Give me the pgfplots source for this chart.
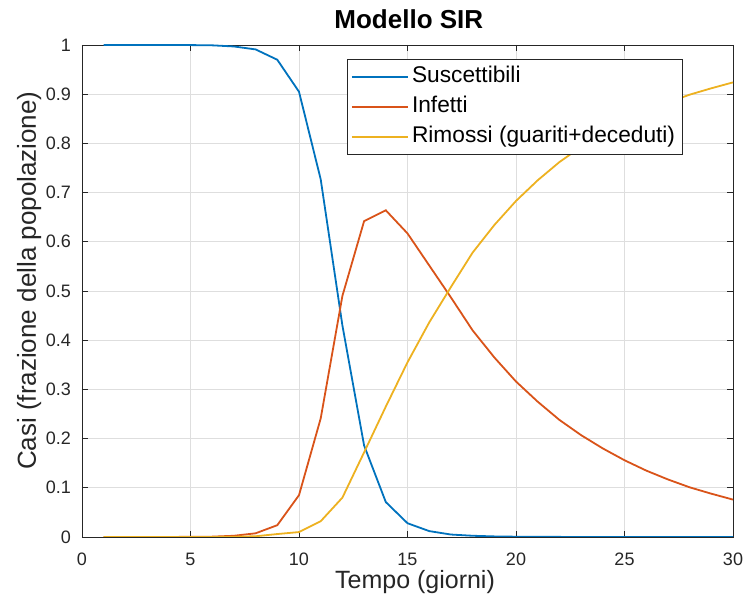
\documentclass[border=0pt]{standalone}
\usepackage{fontspec}
\setmainfont{Liberation Sans}
\usepackage{pgfplots}
\usepackage{pgfplotstable}
\pgfplotsset{compat=1.18}
\definecolor{mblue}{rgb}{0,0.447,0.741}
\definecolor{morange}{rgb}{0.85,0.325,0.098}
\definecolor{myellow}{rgb}{0.929,0.694,0.125}
\pgfplotstableread{
t S I R
1 1.0000 0.0000 0.0000
2 1.0000 0.0000 0.0000
3 1.0000 0.0000 0.0000
4 1.0000 0.0001 0.0000
5 0.9998 0.0003 0.0000
6 0.9993 0.0007 0.0001
7 0.9970 0.0025 0.0005
8 0.9910 0.0075 0.0015
9 0.9700 0.0240 0.0060
10 0.9050 0.0850 0.0100
11 0.7270 0.2410 0.0320
12 0.4300 0.4900 0.0800
13 0.1860 0.6420 0.1720
14 0.0710 0.6640 0.2650
15 0.0280 0.6170 0.3550
16 0.0120 0.5520 0.4360
17 0.0050 0.4870 0.5080
18 0.0025 0.4200 0.5780
19 0.0012 0.3650 0.6340
20 0.0006 0.3160 0.6830
21 0.0003 0.2750 0.7250
22 0.0002 0.2380 0.7620
23 0.0001 0.2070 0.7930
24 0.0000 0.1800 0.8200
25 0.0000 0.1560 0.8440
26 0.0000 0.1350 0.8650
27 0.0000 0.1170 0.8830
28 0.0000 0.1010 0.8990
29 0.0000 0.0880 0.9120
30 0.0000 0.0760 0.9240
}\sirdata
\begin{document}
\begin{tikzpicture}
\useasboundingbox (-82pt,-64pt) rectangle (665pt,537pt);
\begin{axis}[
  at={(0,0)}, anchor=south west,
  scale only axis,
  width=651pt, height=492pt,
  xmin=0, xmax=30, ymin=0, ymax=1,
  xtick={0,5,...,30},
  ytick={0,0.1,0.2,0.3,0.4,0.5,0.6,0.7,0.8,0.9,1},
  yticklabels={0,0.1,0.2,0.3,0.4,0.5,0.6,0.7,0.8,0.9,1},
  tick pos=both,
  tick align=inside,
  major tick length=6pt,
  every tick/.style={black!85, line width=0.8pt},
  axis line style={black!85, line width=0.8pt},
  grid=major,
  major grid style={black!13, line width=0.8pt},
  /pgf/number format/assume math mode=true,
  ticklabel style={font=\fontsize{18}{20}\selectfont, text=black!85},
  yticklabel style={inner sep=0pt, xshift=-11pt},
  xticklabel style={inner sep=0pt, yshift=-16pt},
  title={Modello SIR},
  title style={font=\bfseries\fontsize{26}{28}\selectfont, at={(axis description cs:0.502,1)}, anchor=base, yshift=10pt, inner sep=0pt},
  xlabel={Tempo (giorni)},
  xlabel style={font=\fontsize{25}{28}\selectfont, text=black!85, at={(axis description cs:0.5115,0)}, anchor=base, yshift=-52pt, inner sep=0pt},
  ylabel={Casi (frazione della popolazione)},
  ylabel style={font=\fontsize{26}{28}\selectfont, text=black!85, at={(axis description cs:0,0.521)}, anchor=base, yshift=46pt, inner sep=0pt},
  legend style={at={(axis description cs:0.407,0.9715)}, anchor=north west,
    draw=black!85, line width=0.8pt, fill=white,
    font=\fontsize{22.7}{24}\selectfont, inner xsep=4pt, inner ysep=2.5pt,
    nodes={inner ysep=4.5pt, inner xsep=3.5pt, text height=16pt, text depth=5pt},
    row sep=0pt},
  legend cell align=left,
  legend image code/.code={\draw[#1, line width=1.2pt] (2pt,0pt) -- (58pt,0pt);},
]
\addplot[mblue, line width=1.8pt] table[x=t, y=S] {\sirdata};
\addlegendentry{Suscettibili}
\addplot[morange, line width=1.8pt] table[x=t, y=I] {\sirdata};
\addlegendentry{Infetti}
\addplot[myellow, line width=1.8pt] table[x=t, y=R] {\sirdata};
\addlegendentry{Rimossi (guariti+deceduti)}
\end{axis}
\end{tikzpicture}
\end{document}
